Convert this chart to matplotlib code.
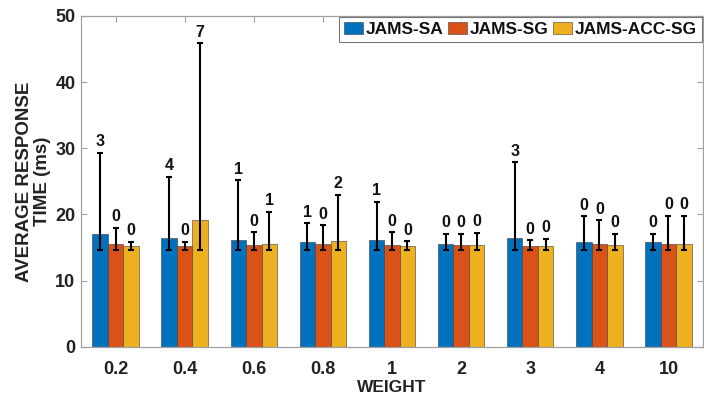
import matplotlib
matplotlib.use("Agg")
import matplotlib.pyplot as plt
import numpy as np

plt.rcParams['font.family'] = ['Liberation Sans', 'DejaVu Sans']
plt.rcParams['font.weight'] = 'bold'

weights = ['0.2', '0.4', '0.6', '0.8', '1', '2', '3', '4', '10']
series = ['JAMS-SA', 'JAMS-SG', 'JAMS-ACC-SG']

sa_mean = [17.0, 16.5, 16.1, 15.8, 16.1, 15.6, 16.5, 15.8, 15.8]
sg_mean = [15.5, 15.25, 15.4, 15.55, 15.4, 15.4, 15.25, 15.55, 15.55]
acc_mean = [15.25, 19.2, 15.55, 15.95, 15.25, 15.4, 15.25, 15.4, 15.55]

sa_max = [29.3, 25.7, 25.2, 18.7, 21.9, 17.1, 27.9, 19.7, 17.1]
sg_max = [18.0, 15.9, 17.3, 18.4, 17.3, 17.1, 16.1, 19.1, 19.8]
acc_max = [15.9, 45.9, 20.4, 23.0, 15.95, 17.2, 16.3, 17.1, 19.8]

sa_min = [14.6] * 9
sg_min = [14.6] * 9
acc_min = [14.6] * 9

sa_count = [3, 4, 1, 1, 1, 0, 3, 0, 0]
sg_count = [0, 0, 0, 0, 0, 0, 0, 0, 0]
acc_count = [0, 7, 1, 2, 0, 0, 0, 0, 0]

colors = ['#0072BD', '#D95319', '#EDB120']

fig = plt.figure(figsize=(7.04, 3.99), dpi=100)
ax = fig.add_axes([81/704, (399-346.7)/399, (703-81)/704, (346.7-16)/399])

x = np.arange(1, len(weights) + 1)
bw = 0.224
means = [sa_mean, sg_mean, acc_mean]
maxs = [sa_max, sg_max, acc_max]
mins = [sa_min, sg_min, acc_min]
counts = [sa_count, sg_count, acc_count]

for i in range(3):
    xi = x + (i - 1) * bw
    m = np.array(means[i])
    lo = m - np.array(mins[i])
    hi = np.array(maxs[i]) - m
    ax.bar(xi, m, width=bw, color=colors[i], edgecolor='#3a3a3a', linewidth=0.4,
           label=series[i], zorder=2)
    ax.errorbar(xi, m, yerr=[lo, hi], fmt='none', ecolor='black', elinewidth=1.5,
                capsize=2.5, capthick=1.5, zorder=3)
    for xx, top, c in zip(xi, maxs[i], counts[i]):
        ax.annotate(str(c), (xx, top), xytext=(0, 2.5), textcoords='offset points',
                    ha='center', va='bottom', fontsize=11.5, fontweight='bold', color='#111111')

ax.set_xlim(0.5, 9.5)
ax.set_ylim(0, 50)
ax.set_yticks([0, 10, 20, 30, 40, 50])
ax.set_xticks(x)
ax.set_xticklabels(weights)
ax.tick_params(axis='both', direction='in', length=4, width=0.8, color='#a0a0a0',
               labelsize=13, labelcolor='#222222', top=True, right=True)
ax.tick_params(axis='x', pad=10)
ax.tick_params(axis='y', pad=4)
for s in ax.spines.values():
    s.set_color('#a0a0a0')
    s.set_linewidth(0.9)

ax.set_xlabel('WEIGHT', fontsize=12.5, fontweight='bold', color='#222222', labelpad=2)
ax.set_ylabel('AVERAGE RESPONSE\nTIME (ms)', fontsize=13.5, fontweight='bold',
              color='#222222', labelpad=3, linespacing=1.1)

leg = ax.legend(loc='upper right', ncol=3, fontsize=12.5, frameon=True, fancybox=False,
                handlelength=1.1, handleheight=0.65, handletextpad=0.15, columnspacing=0.25,
                borderpad=0.3, borderaxespad=0.05)
leg.get_frame().set_edgecolor('#555555')
leg.get_frame().set_linewidth(0.8)
for t in leg.get_texts():
    t.set_fontweight('bold')
    t.set_color('#111111')

fig.savefig('out.png', dpi=100)
